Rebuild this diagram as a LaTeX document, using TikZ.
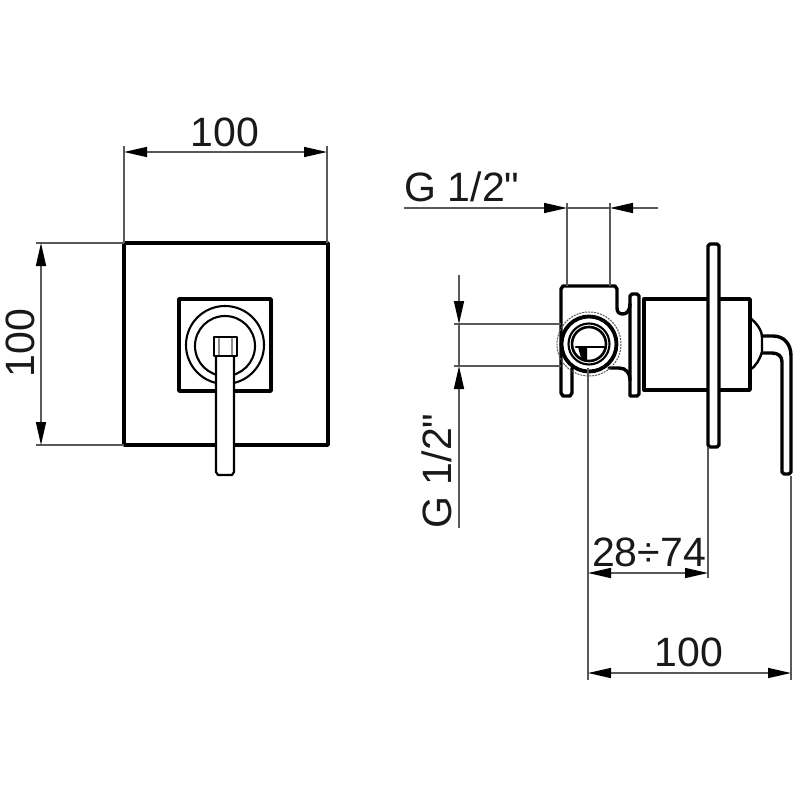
\documentclass[tikz,border=0pt]{standalone}
\usepackage{fontspec}
\setmainfont[Ligatures=TeXOff]{Liberation Sans}
\usetikzlibrary{arrows.meta}
\tikzset{
    outline/.style={draw=black, line width=3.4pt, line join=round, line cap=round},
    fineline/.style={draw=black, line width=2.1pt},
    dimline/.style={draw=black!65, line width=1.5pt},
    dimtip/.style={-{Stealth[length=23pt, width=10pt, inset=0pt, black]}},
    dimboth/.style={{Stealth[length=23pt, width=10pt, inset=0pt, black]}-{Stealth[length=23pt, width=10pt, inset=0pt, black]}},
    dimlabel/.style={inner sep=0pt, font=\fontsize{41}{41}\selectfont, text=black!90},
}
\begin{document}
\begin{tikzpicture}[x=1pt, y=-1pt]
    \useasboundingbox (0,0) rectangle (800,800);

    % front view
    \draw[outline] (124,243) rectangle (328,445);
    \draw[outline] (179,299) rectangle (271,391);
    \draw[fineline] (225,345) circle (39);
    \draw[fineline] (225,346) circle (30);
    \draw[outline, line width=2.2pt, fill=white] (216,356) -- (216,472) -- (218,475) -- (232,475) -- (234,472) -- (234,356);
    \draw[outline, line width=2.2pt, fill=white] (214,337) rectangle (237,356);
    \draw[draw=black!45, line width=1.2pt] (219,338) -- (219,355) (232,338) -- (232,355);

    % side view
    \draw[outline] (572,368) -- (572,393) -- (570,396) -- (563,396) -- (561,393) -- (561,289) -- (563,286) -- (615,286) -- (617,289) -- (617,308)
        .. controls (617,312) and (619,314) .. (623,314) .. controls (627,314) and (630,310) .. (630,304);
    \draw[outline] (609,368) -- (619,368) .. controls (626,368) and (630,373) .. (630,380);
    \draw[outline] (630,396) -- (630,296) -- (632,294) -- (637,294) -- (639,296) -- (639,394) -- (637,396) -- (632,396) -- cycle;
    \draw[outline] (644,299) rectangle (750,390);
    \draw[outline, fill=white] (708,246) -- (710,244) -- (717,244) -- (719,246) -- (719,445) -- (717,447) -- (710,447) -- (708,445) -- cycle;
    \draw[outline, line width=2.4pt] (750,318) .. controls (757,323) and (762,331) .. (762,337) -- (762,352) .. controls (760,359) and (756,366) .. (750,370);
    \draw[outline] (762,336) -- (773,336) .. controls (784,336) and (791,344) .. (791,356) -- (791,472) -- (789,474) -- (784,474) -- (782,472) -- (782,362) .. controls (782,356) and (778,353) .. (772,353) -- (762,353);
    \draw[dimline, line width=1pt, dash pattern=on 2pt off 1pt] (589,344) circle (32);
    \draw[outline, fill=white, line width=3.8pt] (589,344) circle (27.5);
    \draw[fineline] (589,344) circle (20.5);
    \draw[outline, line width=2.6pt] (589,344) circle (17);
    \draw[outline, line width=2.6pt] (576,347) -- (605,347);
    \fill[black] (578,347) -- (587,347) -- (587,360) -- (581,358) -- cycle;

    % anchor points of the dimensions
    \coordinate (frontTL) at (124,243);
    \coordinate (frontTR) at (327,243);
    \coordinate (frontBL) at (124,445);
    \coordinate (extTL) at (124,146);
    \coordinate (extTR) at (327,146);
    \coordinate (extLT) at (36,243);
    \coordinate (extLB) at (36,445);
    \coordinate (widthL) at (124,152);
    \coordinate (widthR) at (327,152);
    \coordinate (heightT) at (41,243);
    \coordinate (heightB) at (41,445);
    \coordinate (pipeA) at (567,286);
    \coordinate (pipeB) at (610,286);
    \coordinate (pipeAtop) at (567,203);
    \coordinate (pipeBtop) at (610,203);
    \coordinate (pipeLineL) at (404,208);
    \coordinate (pipeTipL) at (567,208);
    \coordinate (pipeLineR) at (658,208);
    \coordinate (pipeTipR) at (610,208);
    \coordinate (portA) at (561,324);
    \coordinate (portB) at (561,366);
    \coordinate (portAleft) at (454,324);
    \coordinate (portBleft) at (454,366);
    \coordinate (portLineT) at (459,275);
    \coordinate (portTipT) at (459,324);
    \coordinate (portLineB) at (459,528);
    \coordinate (portTipB) at (459,366);
    \coordinate (axisTop) at (588,368);
    \coordinate (axisEnd) at (588,680);
    \coordinate (plateBot) at (708,447);
    \coordinate (plateEnd) at (708,578);
    \coordinate (leverBot) at (791,476);
    \coordinate (leverEnd) at (791,680);
    \coordinate (reachL) at (588,573);
    \coordinate (reachR) at (708,573);
    \coordinate (depthL) at (588,673);
    \coordinate (depthR) at (791,673);

    % dimensions
    \draw[dimline] (frontTL) -- (extTL);
    \draw[dimline] (frontTR) -- (extTR);
    \draw[dimline] (frontTL) -- (extLT);
    \draw[dimline] (frontBL) -- (extLB);
    \draw[dimline, dimboth] (widthL) -- (widthR);
    \draw[dimline, dimboth] (heightT) -- (heightB);
    \draw[dimline] (pipeA) -- (pipeAtop);
    \draw[dimline] (pipeB) -- (pipeBtop);
    \draw[dimline, dimtip] (pipeLineL) -- (pipeTipL);
    \draw[dimline, dimtip] (pipeLineR) -- (pipeTipR);
    \draw[dimline] (pipeTipL) -- (pipeTipR);
    \draw[dimline] (portA) -- (portAleft);
    \draw[dimline] (portB) -- (portBleft);
    \draw[dimline, dimtip] (portLineT) -- (portTipT);
    \draw[dimline, dimtip] (portLineB) -- (portTipB);
    \draw[dimline] (portTipT) -- (portTipB);
    \draw[dimline] (axisTop) -- (axisEnd);
    \draw[dimline] (plateBot) -- (plateEnd);
    \draw[dimline] (leverBot) -- (leverEnd);
    \draw[dimline, dimboth] (reachL) -- (reachR);
    \draw[dimline, dimboth] (depthL) -- (depthR);

    % labels
    \node[dimlabel] (widthText) at (225,132) {100};
    \node[dimlabel, rotate=90] (heightText) at (20,343) {100};
    \node[dimlabel] (pipeText) at (462,187) {G 1/2"};
    \node[dimlabel, rotate=90] (portText) at (437,471) {G 1/2"};
    \node[dimlabel] (reachText) at (649,552) {28÷74};
    \node[dimlabel] (depthText) at (689,652) {100};
\end{tikzpicture}
\end{document}
